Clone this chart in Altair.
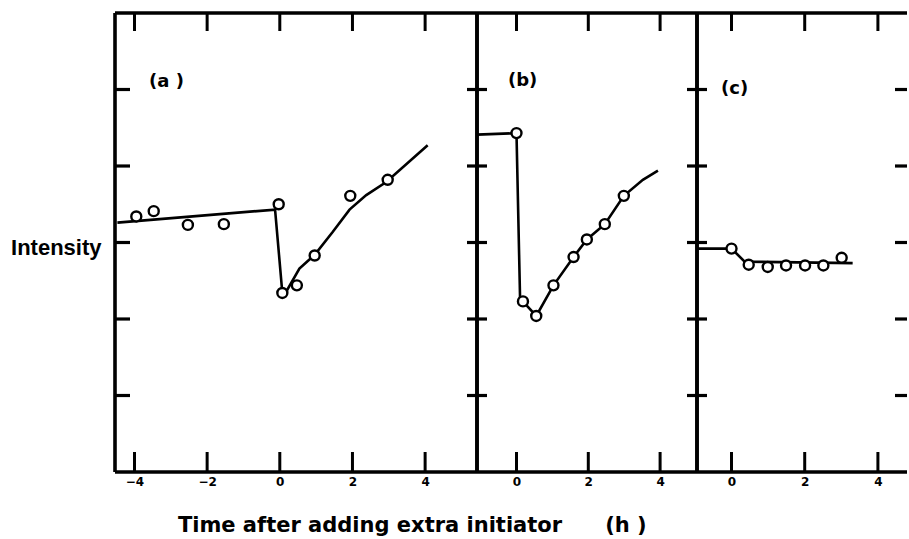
import altair as alt
import pandas as pd

# ---------------- data ----------------
# panel (a)
a_pt_x = [-3.95, -3.47, -2.53, -1.54, -0.03, 0.07, 0.47, 0.96, 1.94, 2.97]
a_pt_y = [3.34, 3.41, 3.23, 3.24, 3.50, 2.34, 2.44, 2.83, 3.61, 3.82]
a_ln_x = [-4.47, -0.13, 0.07, 0.18, 0.54, 0.96, 1.46, 1.92, 2.38, 2.93, 4.07]
a_ln_y = [3.26, 3.43, 2.34, 2.36, 2.66, 2.84, 3.14, 3.43, 3.62, 3.79, 4.27]
# panel (b)
b_pt_x = [0.0, 0.18, 0.55, 1.03, 1.59, 1.96, 2.46, 2.99]
b_pt_y = [4.43, 2.23, 2.04, 2.44, 2.81, 3.04, 3.24, 3.61]
b_ln_x = [-1.1, 0.0, 0.1, 0.18, 0.55, 1.03, 1.59, 1.96, 2.46, 2.99, 3.52, 3.94]
b_ln_y = [4.41, 4.43, 2.26, 2.23, 2.04, 2.44, 2.81, 3.04, 3.24, 3.61, 3.82, 3.94]
# panel (c)
c_pt_x = [0.0, 0.47, 0.99, 1.49, 2.01, 2.51, 3.01]
c_pt_y = [2.92, 2.71, 2.68, 2.70, 2.70, 2.70, 2.80]
c_ln_x = [-0.94, 0.0, 0.36, 3.31]
c_ln_y = [2.92, 2.92, 2.75, 2.73]

x_ticks_a = [-4, -2, 0, 2, 4]
x_ticks_b = [0, 2, 4]
x_ticks_c = [0, 2, 4]
y_ticks = [1, 2, 3, 4, 5]
x_domain_a = [-4.536, 5.428]
x_domain_b = [-1.10, 5.028]
x_domain_c = [-0.943, 4.795]
y_domain = [0, 6]

panel_labels = ["(a )", "(b)", "(c)"]
y_title = "Intensity"
x_title = "Time after adding extra initiator"
x_unit = "(h )"

H = 459
FW = 3.6   # frame width
one = pd.DataFrame({"k": [0]})


def panel(pt_x, pt_y, ln_x, ln_y, xticks, xdom, W, label, lab_x, lab_y,
          left_len, right_len, right_frame, extras=None):
    xs = alt.Scale(domain=xdom, nice=False, zero=False)
    ys = alt.Scale(domain=y_domain, nice=False, zero=False)
    xaxis = alt.Axis(values=xticks, format="d", labelFont="DejaVu Sans",
                     labelFontWeight="bold", labelFontSize=12, labelColor="black",
                     labelPadding=4, ticks=False, domain=False, grid=False,
                     title=None)
    xenc = alt.X("x:Q", scale=xs, axis=xaxis, title=None)
    yenc = alt.Y("y:Q", scale=ys, axis=None, title=None)

    pts = pd.DataFrame({"x": pt_x, "y": pt_y})
    ln = pd.DataFrame({"x": ln_x, "y": ln_y, "i": list(range(len(ln_x)))})
    xt = pd.DataFrame({"x": xticks})
    yt = pd.DataFrame({"y": y_ticks})

    layers = []
    # frame
    layers.append(alt.Chart(one).mark_rule(color="black", strokeWidth=FW).encode(
        x=alt.value(0), x2=alt.value(W), y=alt.value(0)))
    layers.append(alt.Chart(one).mark_rule(color="black", strokeWidth=FW).encode(
        x=alt.value(0), x2=alt.value(W), y=alt.value(H)))
    layers.append(alt.Chart(one).mark_rule(color="black", strokeWidth=FW).encode(
        x=alt.value(0), y=alt.value(0), y2=alt.value(H)))
    if right_frame:
        layers.append(alt.Chart(one).mark_rule(color="black", strokeWidth=FW).encode(
            x=alt.value(W), y=alt.value(0), y2=alt.value(H)))
    # ticks
    layers.append(alt.Chart(xt).mark_rule(color="black", strokeWidth=3).encode(
        x=xenc, y=alt.value(0), y2=alt.value(18)))
    layers.append(alt.Chart(xt).mark_rule(color="black", strokeWidth=3).encode(
        x=xenc, y=alt.value(H - 20), y2=alt.value(H)))
    layers.append(alt.Chart(yt).mark_rule(color="black", strokeWidth=3.2).encode(
        y=yenc, x=alt.value(0), x2=alt.value(left_len)))
    layers.append(alt.Chart(yt).mark_rule(color="black", strokeWidth=3.2).encode(
        y=yenc, x=alt.value(W - right_len), x2=alt.value(W)))
    # data
    layers.append(alt.Chart(ln).mark_line(color="black", strokeWidth=2.6).encode(
        x=xenc, y=yenc, order=alt.Order("i:Q")))
    layers.append(alt.Chart(pts).mark_point(shape="circle", filled=True, fill="white",
                                            stroke="black", strokeWidth=2.4, size=100,
                                            opacity=1).encode(x=xenc, y=yenc))
    # panel label
    layers.append(alt.Chart(one).mark_text(text=label, font="DejaVu Sans",
                                           fontWeight="bold", fontSize=18,
                                           align="left", baseline="middle",
                                           color="black").encode(
        x=alt.value(lab_x), y=alt.value(lab_y)))
    if extras:
        layers.extend(extras)
    return alt.layer(*layers).properties(width=W, height=H)


extras_a = [
    # invisible anchor fixing the page origin
    alt.Chart(one).mark_rule(color="white", strokeWidth=1, opacity=0).encode(
        x=alt.value(-115), x2=alt.value(-114), y=alt.value(-12.5)),
    alt.Chart(one).mark_text(text=y_title, font="Liberation Sans", fontWeight="bold",
                             fontSize=22, align="right", baseline="middle",
                             color="black").encode(x=alt.value(-13.5), y=alt.value(235)),
    alt.Chart(one).mark_text(text=x_title, font="DejaVu Sans", fontWeight="bold",
                             fontSize=21, align="center", baseline="alphabetic",
                             color="black").encode(x=alt.value(255), y=alt.value(519)),
    alt.Chart(one).mark_text(text=x_unit, font="DejaVu Sans", fontWeight="bold",
                             fontSize=21, align="center", baseline="alphabetic",
                             color="black").encode(x=alt.value(511), y=alt.value(519)),
]

pa = panel(a_pt_x, a_pt_y, a_ln_x, a_ln_y, x_ticks_a, x_domain_a, 362,
           panel_labels[0], 34, 69, 15, 10, True, extras_a)
pb = panel(b_pt_x, b_pt_y, b_ln_x, b_ln_y, x_ticks_b, x_domain_b, 220,
           panel_labels[1], 31, 68, 10, 10, True)
pc = panel(c_pt_x, c_pt_y, c_ln_x, c_ln_y, x_ticks_c, x_domain_c, 210,
           panel_labels[2], 24, 76, 10, 12, False)

chart = alt.hconcat(pa, pb, pc, spacing=0, bounds="flush").properties(
    padding={"left": 0, "top": 0, "right": 0, "bottom": 0},
    background="white",
).configure_view(stroke=None)

chart.save("out.html", embed_options={"renderer": "svg", "actions": False})
